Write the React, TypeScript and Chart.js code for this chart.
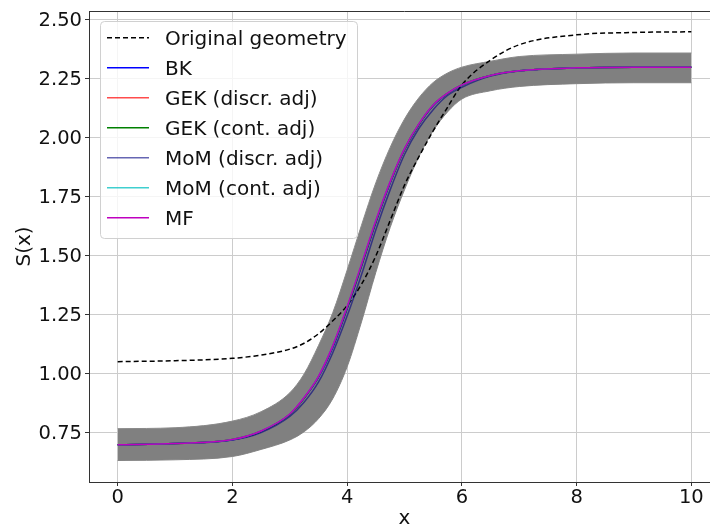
import React, { useEffect, useRef } from "react";
import { Chart, registerables } from "chart.js";

Chart.register(...registerables);

// sample positions along x
const xs = [0, 1, 2, 2.5, 3, 3.25, 3.5, 3.75, 4, 4.25, 4.5, 4.75, 5, 5.25, 5.5, 5.75, 6, 6.5, 7, 8, 9, 10];

// grey band of sampled geometries (envelope)
const bandUpper = [0.768, 0.772, 0.8, 0.84, 0.92, 1.0, 1.12, 1.26, 1.44, 1.63, 1.81, 1.96, 2.08, 2.17, 2.235, 2.275, 2.3, 2.325, 2.345, 2.355, 2.36, 2.36];
const bandLower = [0.633, 0.636, 0.65, 0.68, 0.72, 0.755, 0.81, 0.895, 1.03, 1.22, 1.43, 1.62, 1.78, 1.92, 2.03, 2.11, 2.165, 2.2, 2.218, 2.23, 2.234, 2.234];

const original = [1.052, 1.056, 1.066, 1.08, 1.105, 1.13, 1.17, 1.225, 1.29, 1.38, 1.5, 1.65, 1.8, 1.92, 2.03, 2.13, 2.225, 2.33, 2.395, 2.437, 2.447, 2.45];
const bk = [0.7, 0.705, 0.721, 0.756, 0.828, 0.897, 0.985, 1.112, 1.275, 1.455, 1.64, 1.808, 1.95, 2.056, 2.137, 2.188, 2.224, 2.265, 2.285, 2.297, 2.3, 2.3];
const gekDiscr = [0.7, 0.705, 0.722, 0.757, 0.829, 0.898, 0.988, 1.117, 1.28, 1.46, 1.645, 1.812, 1.953, 2.058, 2.139, 2.189, 2.225, 2.265, 2.285, 2.297, 2.3, 2.3];
const gekCont = [0.7, 0.705, 0.722, 0.757, 0.829, 0.898, 0.988, 1.117, 1.28, 1.46, 1.645, 1.812, 1.953, 2.058, 2.139, 2.189, 2.225, 2.265, 2.285, 2.297, 2.3, 2.3];
const momDiscr = [0.7, 0.705, 0.72, 0.752, 0.82, 0.88, 0.965, 1.09, 1.245, 1.42, 1.61, 1.78, 1.93, 2.04, 2.12, 2.18, 2.215, 2.262, 2.284, 2.297, 2.3, 2.3];
const momCont = [0.7, 0.705, 0.722, 0.758, 0.83, 0.9, 0.99, 1.12, 1.285, 1.465, 1.65, 1.815, 1.955, 2.06, 2.14, 2.19, 2.225, 2.265, 2.285, 2.297, 2.3, 2.3];
const mf = [0.7, 0.705, 0.722, 0.758, 0.83, 0.9, 0.99, 1.12, 1.285, 1.465, 1.65, 1.815, 1.955, 2.06, 2.14, 2.19, 2.225, 2.265, 2.285, 2.297, 2.3, 2.3];

const xTicks = [0, 2, 4, 6, 8, 10];
const yTicks = [0.75, 1.0, 1.25, 1.5, 1.75, 2.0, 2.25, 2.5];

const FONT = "'DejaVu Sans', 'Liberation Sans', sans-serif";

const framePlugin = {
  id: "frameAndLegend",
  afterDatasetsDraw(chart: any) {
    const { ctx, chartArea: a } = chart;
    ctx.save();
    // top and right spines
    ctx.strokeStyle = "#333";
    ctx.lineWidth = 1;
    ctx.beginPath();
    ctx.moveTo(a.left, Math.round(a.top) + 0.5);
    ctx.lineTo(a.right, Math.round(a.top) + 0.5);
    ctx.moveTo(Math.round(a.right) - 0.5, a.top);
    ctx.lineTo(Math.round(a.right) - 0.5, a.bottom);
    ctx.stroke();

    // legend
    const items = chart.data.datasets.filter((d: any) => d.label);
    const bx = a.left + 11.5;
    const by = a.top + 10.5;
    const bw = 257;
    const bh = 217;
    const r = 4;
    ctx.beginPath();
    ctx.moveTo(bx + r, by);
    ctx.lineTo(bx + bw - r, by);
    ctx.arcTo(bx + bw, by, bx + bw, by + r, r);
    ctx.lineTo(bx + bw, by + bh - r);
    ctx.arcTo(bx + bw, by + bh, bx + bw - r, by + bh, r);
    ctx.lineTo(bx + r, by + bh);
    ctx.arcTo(bx, by + bh, bx, by + bh - r, r);
    ctx.lineTo(bx, by + r);
    ctx.arcTo(bx, by, bx + r, by, r);
    ctx.closePath();
    ctx.fillStyle = "rgba(255,255,255,0.8)";
    ctx.fill();
    ctx.strokeStyle = "#d0d0d0";
    ctx.stroke();

    ctx.font = `20px ${FONT}`;
    ctx.textBaseline = "alphabetic";
    ctx.textAlign = "left";
    items.forEach((d: any, i: number) => {
      const y = a.top + 26.7 + 30 * i;
      ctx.save();
      ctx.strokeStyle = d.borderColor;
      ctx.lineWidth = d.borderWidth;
      ctx.setLineDash(d.borderDash || []);
      ctx.beginPath();
      ctx.moveTo(a.left + 18, y);
      ctx.lineTo(a.left + 60, y);
      ctx.stroke();
      ctx.restore();
      ctx.fillStyle = "#111";
      ctx.fillText(d.label, a.left + 76, y + 7.3);
    });
    ctx.restore();
  },
};

export default function App() {
  const ref = useRef<HTMLCanvasElement>(null);

  useEffect(() => {
    const pts = (ys: number[]) => xs.map((x, i) => ({ x, y: ys[i] }));
    const line = (label: string, ys: number[], color: string, order: number, extra: any = {}) => ({
      label,
      data: pts(ys),
      borderColor: color,
      backgroundColor: color,
      borderWidth: 1.5,
      pointRadius: 0,
      fill: false,
      cubicInterpolationMode: "monotone",
      order,
      ...extra,
    });

    const chart = new Chart(ref.current as HTMLCanvasElement, {
      type: "line",
      data: {
        datasets: [
          line("", bandLower, "#8a8a8a", 20, { borderWidth: 1 }),
          line("", bandUpper, "#8a8a8a", 19, { borderWidth: 1, fill: "-1", backgroundColor: "#808080" }),
          line("Original geometry", original, "#000000", 7, { borderDash: [5, 3] }),
          line("BK", bk, "#0000ff", 6),
          line("GEK (discr. adj)", gekDiscr, "rgba(255,0,0,0.7)", 5),
          line("GEK (cont. adj)", gekCont, "#008000", 4),
          line("MoM (discr. adj)", momDiscr, "rgba(0,0,128,0.6)", 3),
          line("MoM (cont. adj)", momCont, "rgba(0,191,191,0.75)", 2),
          line("MF", mf, "#bf00bf", 1),
        ],
      } as any,
      options: {
        responsive: false,
        animation: false,
        events: [],
        layout: { padding: { top: 11, right: 0, left: 0, bottom: 0 } },
        plugins: {
          legend: { display: false },
          tooltip: { enabled: false },
          title: { display: false },
        },
        scales: {
          x: {
            type: "linear",
            min: -0.5,
            max: 10.5,
            afterBuildTicks: (s: any) => {
              s.ticks = xTicks.map((v) => ({ value: v }));
            },
            afterFit: (s: any) => {
              s.height = 47;
              s.paddingLeft = 0;
              s.paddingRight = 0;
            },
            ticks: {
              color: "#111",
              font: { family: FONT, size: 19.5, lineHeight: 1.2 },
              padding: 0,
              maxRotation: 0,
              autoSkip: false,
              callback: (v: any) => String(v),
            },
            grid: { color: "#cccccc", lineWidth: 1, tickLength: 4, tickColor: "#333" },
            border: { color: "#333", width: 1 },
            title: {
              display: true,
              text: "x",
              color: "#111",
              font: { family: FONT, size: 20, lineHeight: 1 },
              padding: { top: 0, bottom: 0 },
            },
          },
          y: {
            type: "linear",
            min: 0.542,
            max: 2.538,
            afterBuildTicks: (s: any) => {
              s.ticks = yTicks.map((v) => ({ value: v }));
            },
            afterFit: (s: any) => {
              s.width = 89;
              s.paddingTop = 0;
              s.paddingBottom = 0;
            },
            ticks: {
              color: "#111",
              font: { family: FONT, size: 19.5, lineHeight: 1.2 },
              padding: 3,
              labelOffset: 1,
              autoSkip: false,
              callback: (v: any) => Number(v).toFixed(2),
            },
            grid: { color: "#cccccc", lineWidth: 1, tickLength: 4, tickColor: "#333" },
            border: { color: "#333", width: 1 },
            title: {
              display: true,
              text: "S(x)",
              color: "#111",
              font: { family: FONT, size: 20, lineHeight: 1 },
              padding: { top: 15, bottom: 0 },
            },
          },
        },
      } as any,
      plugins: [framePlugin],
    });
    return () => chart.destroy();
  }, []);

  return (
    <div
      style={{
        position: "fixed",
        left: 0,
        top: 0,
        width: 710,
        height: 529,
        overflow: "hidden",
        background: "#fff",
      }}
    >
      <canvas ref={ref} width={720} height={529} style={{ width: 720, height: 529, display: "block" }} />
    </div>
  );
}
